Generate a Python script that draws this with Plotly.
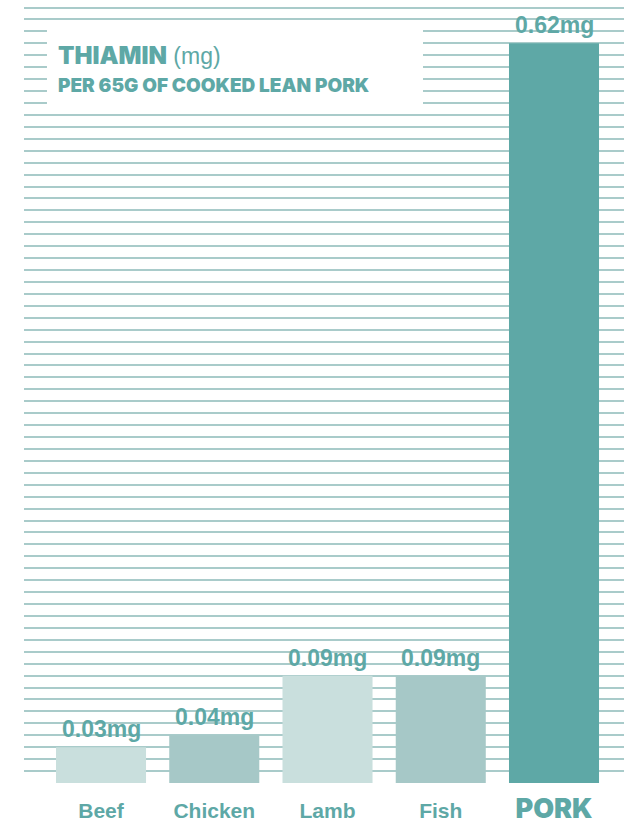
import plotly.graph_objects as go

categories = ["Beef", "Chicken", "Lamb", "Fish", "PORK"]
values = [0.03, 0.04, 0.09, 0.09, 0.62]
value_labels = ["0.03mg", "0.04mg", "0.09mg", "0.09mg", "0.62mg"]
bar_colors = ["#c9dfdd", "#a6c8c7", "#c9dfdd", "#a6c8c7", "#5ea8a6"]
grid_ticks = [round(i * 0.01, 2) for i in range(66)]

TEAL = "#5ea8a6"
ARIAL = "Liberation Sans, Arial, sans-serif"
GEO = "Inter, Lato, sans-serif"

x = list(range(len(categories)))
tick_text = [f"<b>{c}</b>" for c in categories[:-1]] + [
    f"<span style='font-family:Inter;font-size:27px;font-weight:900'>{categories[-1]}</span>"
]

fig = go.Figure()
fig.add_trace(go.Bar(
    x=x, y=values, marker=dict(color=bar_colors, line=dict(width=0)),
    width=0.795, hoverinfo="skip",
))

for xi, v, lab in zip(x, values, value_labels):
    fig.add_annotation(x=xi, y=v, text=f"<b>{lab}</b>", showarrow=False,
                       yanchor="bottom", yshift=3,
                       font=dict(family=ARIAL, size=23, color=TEAL))

# title box
fig.add_shape(type="rect", xref="paper", yref="paper", x0=0.0383, x1=0.665,
              y0=0.861, y1=0.969, fillcolor="white", line=dict(width=0), layer="above")
fig.add_annotation(xref="paper", yref="paper", x=0.053, y=0.930, xanchor="left", yanchor="middle",
                   text="THIAMIN<span style='font-family:Liberation Sans;font-size:23px;font-weight:400'> (mg)</span>",
                   showarrow=False, font=dict(family=GEO, size=24, color=TEAL, weight=900))
fig.add_annotation(xref="paper", yref="paper", x=0.053, y=0.892, xanchor="left", yanchor="middle",
                   text="PER 65G OF COOKED LEAN PORK",
                   showarrow=False, font=dict(family=GEO, size=19, color=TEAL, weight=900))

fig.update_layout(
    width=627, height=825,
    margin=dict(l=24, r=3, t=1, b=42),
    paper_bgcolor="white", plot_bgcolor="white",
    showlegend=False,
    xaxis=dict(range=[-0.680, 4.618], tickvals=x, ticktext=tick_text,
               showgrid=False, zeroline=False, showline=False, ticks="",
               ticklabelstandoff=13, automargin=False,
               tickfont=dict(family=ARIAL, size=21, color=TEAL)),
    yaxis=dict(range=[0, 0.6555], tickvals=grid_ticks, showticklabels=False,
               showgrid=True, gridcolor="#a9cbca", gridwidth=1.5,
               zeroline=False, showline=False, ticks="", automargin=False),
)

fig.write_html("out.html")
